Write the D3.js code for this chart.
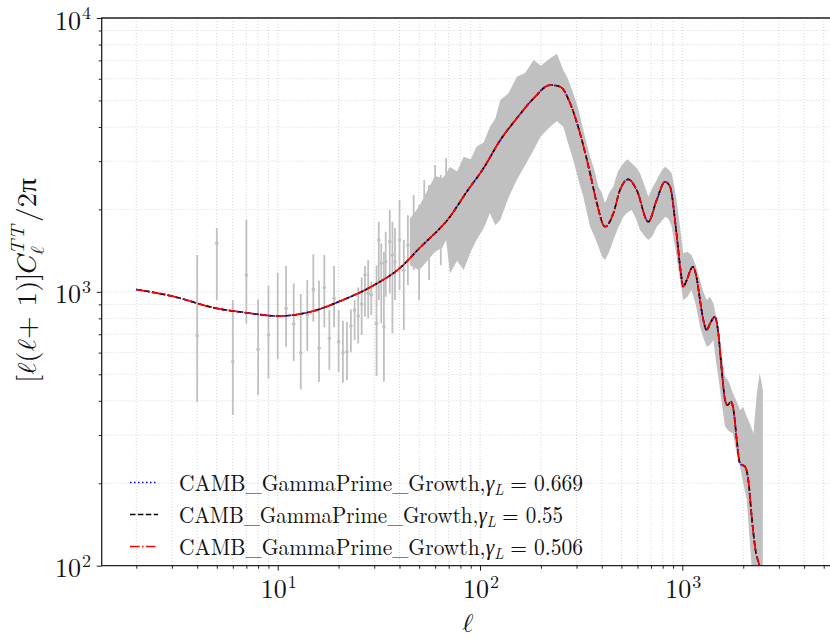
<!DOCTYPE html>
<html>
<head>
<meta charset="utf-8">
<script src="https://cdn.jsdelivr.net/npm/d3@7/dist/d3.min.js"></script>
<style>
  body { margin: 0; background: #fff; }
  svg { display: block; }
</style>
</head>
<body>
<div id="chart"></div>
<script>
// ---- data ----
// theory curve; the three gamma_L runs sit on top of each other at this scale
const thEll = [2, 3, 5, 7, 10, 15, 20, 30, 40, 50, 71, 86, 104, 126, 152, 184, 222, 249, 279, 312,
  350, 378, 415, 456, 492, 541, 595, 679, 747, 821, 870, 932, 980, 1011, 1051, 1126, 1178, 1223,
  1270, 1320, 1371, 1451, 1507, 1566, 1626, 1669, 1741, 1801, 1858, 1929, 2042, 2120, 2203, 2288, 2420, 2600];
const dlTheory = [1020, 965, 870, 839, 816, 851, 920, 1059, 1218, 1440, 1881, 2321, 2826, 3584, 4302, 5089, 5691, 5612, 4881, 3793,
  2709, 2105, 1729, 1935, 2354, 2576, 2354, 1803, 2164, 2524, 2420, 1680, 1201, 1044, 1104, 1235, 1120, 933,
  789, 725, 767, 811, 705, 518, 403, 386, 397, 360, 287, 236, 230, 205, 151, 117, 98, 70];

const gammaValues = ["0.669", "0.55", "0.506"];

// individual points with error bars (low ell and the sparse part of the high-ell data)
const ptEll = [4, 5, 6, 7, 8, 9, 10, 11, 12, 13, 14, 15, 16, 17, 18, 19, 20, 21, 22, 23, 24, 25, 26, 27, 28, 29,
  30.8, 31.6, 32.5, 33.5, 34.2, 35.8, 36.9, 38, 40, 42, 44, 47, 50, 53, 56, 60, 64, 68];
const ptDl = [691, 1504, 556, 1152, 617, 696, 816, 870, 763, 599, 823, 1021, 622, 1035, 676, 947, 657, 599, 604, 750, 858, 816, 902, 1152, 987, 973,
  767, 1546, 1271, 746, 1288, 1524, 1363, 1284, 1546, 1199, 1482, 1681, 1482, 1906, 1752, 2164, 1906, 2354];
const ptHi = [1363, 1710, 933, 1829, 939, 1050, 1174, 1242, 1074, 982, 1104, 1371, 1098, 1363, 858, 1242, 858, 784, 778, 863, 933, 1038, 1130, 1242, 1306, 1089,
  1251, 1802, 1504, 1401, 1658, 1989, 1802, 1710, 2164, 1546, 1906, 2256, 2076, 2560, 2456, 2903, 2670, 3075];
const ptLo = [397, 933, 355, 767, 420, 483, 567, 630, 559, 440, 609, 778, 469, 742, 518, 742, 511, 466, 476, 604, 667, 648, 696, 811, 800, 823,
  493, 933, 767, 470, 960, 987, 705, 933, 1015, 725, 1059, 1202, 933, 1363, 1104, 1482, 1251, 1546];

// dense high-ell data: envelope of the error-bar band
const bandEll = [45, 50, 55, 60, 65, 68, 71, 77, 83, 90, 96, 104, 112, 119, 126, 138, 152, 167, 184, 200, 222, 240, 258, 272, 289, 305, 324, 350, 367,
  385, 400, 415, 435, 456, 480, 511, 535, 562, 590, 618, 650, 679, 712, 747, 785, 821, 855, 886, 930, 974, 1011, 1060, 1110,
  1165, 1223, 1270, 1320, 1370, 1424, 1465, 1507, 1560, 1626, 1700, 1779, 1850, 1929, 2000, 2082, 2160, 2247, 2330, 2414, 2460, 2500];
const bandHi = [1850, 2050, 2350, 2650, 2600, 2700, 2864, 2750, 3114, 3050, 3389, 3500, 4009, 4300, 5018, 5300, 6105, 6300, 7024, 6700, 7124, 7400, 6457, 6000, 5309, 4700, 3898, 3114, 2800,
  2420, 2300, 2105, 2300, 2420, 2750, 2947, 3050, 2947, 2850, 2709, 2450, 2225, 2400, 2560, 2750, 2864, 2800, 2709, 2250, 1729, 1382, 1400, 1363,
  1250, 1104, 1000, 933, 960, 908, 820, 705, 600, 490, 470, 426, 400, 370, 380, 350, 330, 304, 420, 504, 470, 438];
const bandLo = [1250, 1200, 1300, 1400, 1450, 1546, 1168, 1300, 1202, 1400, 1546, 1700, 1935, 1750, 1829, 2200, 2560, 2900, 3296, 3700, 4009, 4200, 4009, 3500, 3030, 2600, 2225, 1729, 1600,
  1461, 1350, 1307, 1400, 1546, 1700, 1881, 1950, 1990, 1850, 1681, 1600, 1546, 1600, 1729, 1800, 1881, 1850, 1729, 1400, 1104, 933, 960, 1015,
  900, 746, 680, 630, 640, 667, 560, 490, 400, 322, 310, 304, 260, 230, 200, 174, 120, 80, 80, 80, 80, 80];

const xMajor = [1e1, 1e2, 1e3];
const yMajor = [1e2, 1e3, 1e4];

// ---- fonts: first installed candidate ----
function pickFont(cands, fallback) {
  const ctx = document.createElement("canvas").getContext("2d");
  const probe = "CAMB_GammaPrime_Growth 0123456789 ell";
  ctx.font = "40px monospace";
  const base = ctx.measureText(probe).width;
  for (const f of cands) {
    ctx.font = `40px "${f}", monospace`;
    if (Math.abs(ctx.measureText(probe).width - base) > 0.5) return `"${f}"`;
  }
  return fallback;
}
const FONT = pickFont(["Latin Modern Roman", "CMU Serif", "Liberation Serif", "DejaVu Serif", "Noto Serif",
  "Times New Roman", "Liberation Sans"], "serif");
const MATHFONT = pickFont(["Latin Modern Math", "STIX Two Math", "STIXGeneral", "Cambria Math"], null);
// the ell glyph: a math font's \ell when there is one, else a slanted fallback
const ELL = MATHFONT ? { font: MATHFONT, italic: false } : { font: FONT, italic: true };

// ---- layout ----
const W = 830, H = 639;
const plot = { left: 101.7, right: 834, top: 18, bottom: 565.7 };

const svg = d3.select("#chart").append("svg").attr("width", W).attr("height", H);

const x = d3.scaleLog().domain([1.349, 5620]).range([plot.left, plot.right]);
const y = d3.scaleLog().domain([100, 10000]).range([plot.bottom, plot.top]);

// minor tick values
const xMinor = [];
[1, 10, 100, 1000].forEach(d => { for (let k = 2; k <= 9; k++) { const v = d * k; if (v > x.domain()[0] && v < x.domain()[1]) xMinor.push(v); } });
const yMinor = [];
[100, 1000].forEach(d => { for (let k = 2; k <= 9; k++) yMinor.push(d * k); });

svg.append("defs").append("clipPath").attr("id", "clip")
  .append("rect").attr("x", plot.left).attr("y", plot.top)
  .attr("width", plot.right - plot.left).attr("height", plot.bottom - plot.top);

// grid (major + minor, dotted)
const grid = svg.append("g").attr("stroke", "#cccccc").attr("stroke-width", 0.8).attr("stroke-dasharray", "1,2");
xMajor.concat(xMinor).forEach(v => {
  grid.append("line").attr("x1", x(v)).attr("x2", x(v)).attr("y1", plot.top).attr("y2", plot.bottom);
});
yMajor.concat(yMinor).forEach(v => {
  grid.append("line").attr("x1", plot.left).attr("x2", plot.right).attr("y1", y(v)).attr("y2", y(v));
});

const body = svg.append("g").attr("clip-path", "url(#clip)");
const dataGray = "#c0c0c0";

// high-ell band
const band = bandEll.map((l, i) => ({ l, lo: bandLo[i], hi: bandHi[i] }));
body.append("path")
  .datum(band)
  .attr("fill", dataGray)
  .attr("d", d3.area().x(d => x(d.l)).y0(d => y(d.lo)).y1(d => y(d.hi)));

// error bars
const pts = ptEll.map((l, i) => ({ l, v: ptDl[i], lo: ptLo[i], hi: ptHi[i] }));
body.append("g").selectAll("line").data(pts).join("line")
  .attr("x1", d => x(d.l)).attr("x2", d => x(d.l))
  .attr("y1", d => y(d.hi)).attr("y2", d => y(d.lo))
  .attr("stroke", dataGray).attr("stroke-width", 1.8);
body.append("g").selectAll("circle").data(pts).join("circle")
  .attr("cx", d => x(d.l)).attr("cy", d => y(d.v)).attr("r", 1.8)
  .attr("fill", dataGray);

// theory curves
const series = [
  { g: gammaValues[0], color: "#0000ff", dash: "1.5,2.5" },
  { g: gammaValues[1], color: "#000000", dash: "5.5,2.4" },
  { g: gammaValues[2], color: "#ff0000", dash: "9.6,2.4,1.5,2.4" }
];
const th = thEll.map((l, i) => ({ l, v: dlTheory[i] }));
const line = d3.line().x(d => x(d.l)).y(d => y(d.v)).curve(d3.curveMonotoneX);
series.forEach(s => {
  body.append("path").datum(th)
    .attr("fill", "none").attr("stroke", s.color).attr("stroke-width", 1.7)
    .attr("stroke-dasharray", s.dash).attr("d", line);
});

// axes
const axisColor = "#222";
function tickAxis(gen, vals, size, transform) {
  const g = svg.append("g").attr("transform", transform)
    .call(gen.tickValues(vals).tickSize(size).tickFormat(""));
  g.select(".domain").remove();
  g.selectAll(".tick line").attr("stroke", axisColor).attr("stroke-width", 1);
  return g;
}
tickAxis(d3.axisBottom(x), xMajor, 5, `translate(0,${plot.bottom})`);
tickAxis(d3.axisBottom(x), xMinor, 3, `translate(0,${plot.bottom})`);
tickAxis(d3.axisLeft(y), yMajor, 5, `translate(${plot.left},0)`);
tickAxis(d3.axisLeft(y), yMinor, 3, `translate(${plot.left},0)`);

svg.append("path")
  .attr("d", `M${plot.right},${plot.top}H${plot.left}V${plot.bottom}H${plot.right}`)
  .attr("fill", "none").attr("stroke", axisColor).attr("stroke-width", 1.3);

// lay out a run of text pieces (with sub/superscripts); the run is squeezed to `target` px wide
function mathText(parent, parts, target) {
  const outer = parent.append("g");
  const g = outer.append("g");
  let cx = 0, prevStart = 0;
  parts.forEach(p => {
    const t = g.append("text")
      .attr("y", p.dy || 0)
      .attr("font-family", p.font || FONT)
      .attr("fill", "#111")
      .style("font-size", p.size + "px")
      .style("font-style", p.italic ? "italic" : "normal")
      .text(p.t);
    const w = t.node().getComputedTextLength();
    const start = (p.stack ? prevStart : cx) + (p.dx || 0);
    t.attr("x", start);
    if (!p.stack) prevStart = start;
    cx = Math.max(cx, start + w);
  });
  const sx = target ? target / cx : 1;
  g.attr("transform", `scale(${sx},1)`);
  return { g: outer, width: cx * sx };
}

function powLabel(exp) {
  return [{ t: "10", size: 26 }, { t: String(exp), size: 18, dy: -10.5, dx: 1 }];
}

xMajor.forEach(v => {
  const m = mathText(svg, powLabel(Math.round(Math.log10(v))), 36);
  m.g.attr("transform", `translate(${x(v) - m.width / 2 + 1},598)`);
});
yMajor.forEach(v => {
  const m = mathText(svg, powLabel(Math.round(Math.log10(v))), 36);
  m.g.attr("transform", `translate(${91 - m.width},${y(v) + 11.5})`);
});

// axis labels
const xl = mathText(svg, [{ t: "ℓ", size: 27, font: ELL.font, italic: ELL.italic }]);
xl.g.attr("transform", `translate(${468 - xl.width / 2},632)`);

const yl = mathText(svg, [
  { t: "[", size: 27 },
  { t: "ℓ", size: 27, font: ELL.font, italic: ELL.italic },
  { t: "(", size: 27 },
  { t: "ℓ", size: 27, font: ELL.font, italic: ELL.italic },
  { t: " + 1)]", size: 27 },
  { t: "C", size: 27, italic: true, dx: -4 },
  { t: "TT", size: 19, italic: true, dy: -12, dx: 1 },
  { t: "ℓ", size: 19, font: ELL.font, italic: ELL.italic, dy: 8, stack: true },
  { t: "/2π", size: 27, dx: 3 }
], 205);
yl.g.attr("transform", `translate(36,${280.5}) rotate(-90) translate(${-yl.width / 2},0)`);

// legend
const legendRows = [482.5, 514.5, 546.5];
const legendEnds = [583, 563, 583];
series.forEach((s, i) => {
  const yy = legendRows[i];
  svg.append("line").attr("x1", 130).attr("x2", 158).attr("y1", yy).attr("y2", yy)
    .attr("stroke", s.color).attr("stroke-width", 1.6).attr("stroke-dasharray", s.dash);
  const m = mathText(svg, [
    { t: "CAMB_GammaPrime_Growth,", size: 23 },
    { t: "γ", size: 23, italic: true },
    { t: "L", size: 16, italic: true, dy: 4 },
    { t: "= " + s.g, size: 23, dx: 7 }
  ], legendEnds[i] - 179);
  m.g.attr("transform", `translate(179,${yy + 8})`);
});
</script>
</body>
</html>
